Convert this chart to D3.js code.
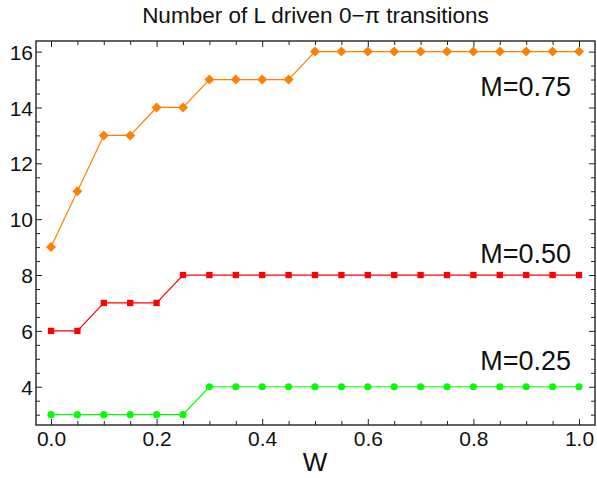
<!DOCTYPE html>
<html>
<head>
<meta charset="utf-8">
<script src="https://cdn.jsdelivr.net/npm/d3@7"></script>
<style>
  body { margin: 0; background: #fff; }
  svg { display: block; font-family: "Liberation Sans", Arial, sans-serif; }
</style>
</head>
<body>
<svg id="graph" width="597" height="478"></svg>
<script>
const W = [0, 0.05, 0.1, 0.15, 0.2, 0.25, 0.3, 0.35, 0.4, 0.45, 0.5,
  0.55, 0.6, 0.65, 0.7, 0.75, 0.8, 0.85, 0.9, 0.95, 1.0];
const m075 = [9, 11, 13, 13, 14, 14, 15, 15, 15, 15, 16, 16, 16, 16, 16, 16, 16, 16, 16, 16, 16];
const m050 = [6, 6, 7, 7, 7, 8, 8, 8, 8, 8, 8, 8, 8, 8, 8, 8, 8, 8, 8, 8, 8];
const m025 = [3, 3, 3, 3, 3, 3, 4, 4, 4, 4, 4, 4, 4, 4, 4, 4, 4, 4, 4, 4, 4];
const xTicks = [0, 0.2, 0.4, 0.6, 0.8, 1.0];
const yTicks = [4, 6, 8, 10, 12, 14, 16];
const title = "Number of L driven 0\u2212\u03c0 transitions";
const xLabel = "W";

const series = [
  { name: "M=0.75", values: m075, color: "#ff8000", shape: d3.symbolDiamond2, size: 64, labelY: 95.7 },
  { name: "M=0.50", values: m050, color: "#ff0000", shape: d3.symbolSquare, size: 40, labelY: 262.7 },
  { name: "M=0.25", values: m025, color: "#00ff00", shape: d3.symbolCircle, size: 40, labelY: 370 }
];

const svg = d3.select("#graph");
const pLeft = 36, pRight = 595, pTop = 41, pBottom = 425;

const x = d3.scaleLinear().domain([-0.0284, 1.0303]).range([pLeft, pRight]);
const y = d3.scaleLinear().domain([2.63, 16.38]).range([pBottom, pTop]);

const xMinor = d3.range(0, 21).map((i) => i * 0.05).filter((v) => !xTicks.some((t) => Math.abs(t - v) < 1e-6));
const yMinor = d3.range(3, 16.01, 0.5).filter((v) => !yTicks.includes(v));

function tickAxis(axisFn, scale, major, minor, pos, fmt) {
  const g = svg.append("g").attr("transform", pos);
  g.call(axisFn(scale).tickValues(major).tickSize(6).tickSizeOuter(0).tickFormat(fmt || (() => "")));
  g.append("g").call(axisFn(scale).tickValues(minor).tickSize(4).tickSizeOuter(0).tickFormat(""))
    .select(".domain").remove();
  g.selectAll("line").attr("stroke", "#222").attr("stroke-width", 1);
  g.select(".domain").remove();
  g.selectAll("text").attr("font-size", 21).attr("fill", "#111")
    .attr("font-family", "Liberation Sans, Arial, sans-serif");
  return g;
}

// ticks point inwards on all four sides
const gb = tickAxis((s) => d3.axisTop(s), x, xTicks, xMinor, `translate(0,${pBottom})`, d3.format(".1f"));
gb.selectAll(".tick text").attr("y", 21).attr("dy", 0).attr("text-anchor", "middle");
tickAxis((s) => d3.axisBottom(s), x, xTicks, xMinor, `translate(0,${pTop})`);
const gl = tickAxis((s) => d3.axisRight(s), y, yTicks, yMinor, `translate(${pLeft},0)`, d3.format("d"));
gl.selectAll(".tick text").attr("x", -3).attr("dy", "0.36em").attr("text-anchor", "end");
tickAxis((s) => d3.axisLeft(s), y, yTicks, yMinor, `translate(${pRight},0)`);

svg.append("rect")
  .attr("x", pLeft).attr("y", pTop)
  .attr("width", pRight - pLeft).attr("height", pBottom - pTop)
  .attr("fill", "none").attr("stroke", "#222").attr("stroke-width", 1.4);

const line = d3.line().x((d, i) => x(W[i])).y((d) => y(d));

series.forEach((s) => {
  const g = svg.append("g");
  g.append("path").datum(s.values)
    .attr("d", line).attr("fill", "none")
    .attr("stroke", s.color).attr("stroke-width", 1.2);
  g.selectAll("path.pt").data(s.values).join("path")
    .attr("class", "pt")
    .attr("transform", (d, i) => `translate(${x(W[i])},${y(d)})`)
    .attr("d", d3.symbol().type(s.shape).size(s.size))
    .attr("fill", s.color);
  svg.append("text")
    .attr("x", 571).attr("y", s.labelY)
    .attr("text-anchor", "end").attr("font-size", 27).attr("fill", "#111")
    .text(s.name);
});

svg.append("text")
  .attr("x", (pLeft + pRight) / 2).attr("y", 22.7)
  .attr("text-anchor", "middle").attr("font-size", 22.5).attr("fill", "#111")
  .text(title);

svg.append("text")
  .attr("x", 315).attr("y", 471)
  .attr("text-anchor", "middle").attr("font-size", 26).attr("fill", "#111")
  .text(xLabel);
</script>
</body>
</html>
